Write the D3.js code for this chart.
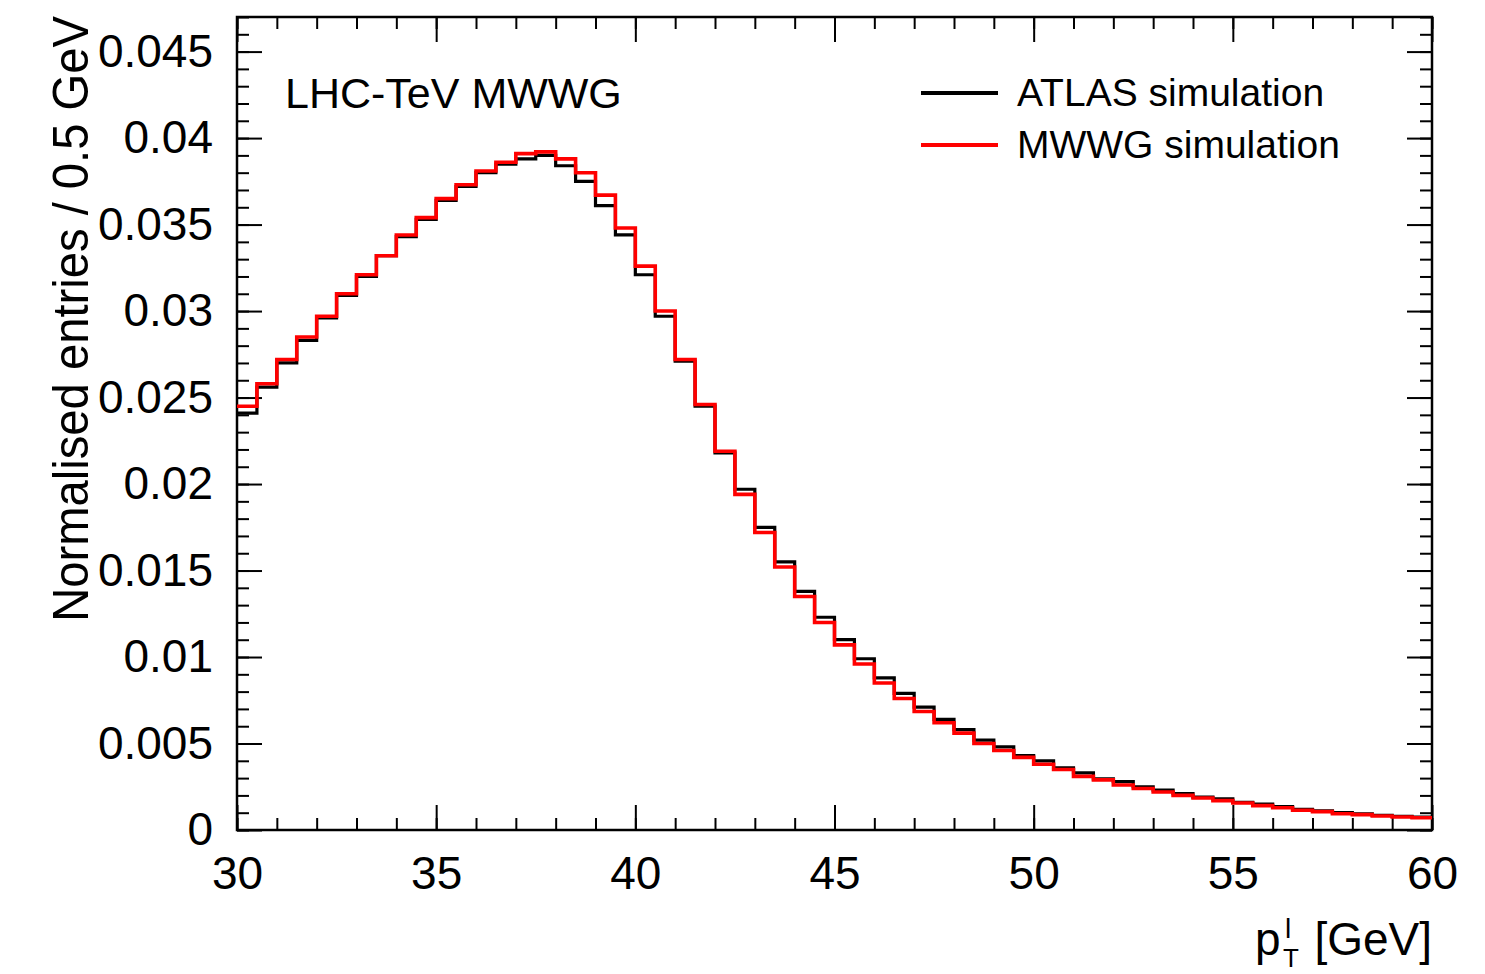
<!DOCTYPE html>
<html>
<head>
<meta charset="utf-8">
<script src="https://cdn.jsdelivr.net/npm/d3@7"></script>
<style>
  body { margin: 0; background: #fff; }
  svg { font-family: "Liberation Sans", Arial, Helvetica, sans-serif; }
</style>
</head>
<body>
<svg id="chart" width="1485" height="974"></svg>
<script>
// bin contents, 0.5 GeV bins from 30 to 60 GeV
const binLow = 30, binWidth = 0.5
const atlasValues = [0.0241, 0.0256, 0.0270, 0.0283, 0.0296, 0.0309, 0.0320, 0.0332, 0.0343, 0.0353,
  0.0364, 0.0372, 0.0380, 0.0385, 0.0388, 0.0390, 0.0384, 0.0375, 0.0361, 0.0344,
  0.0321, 0.0297, 0.0271, 0.0245, 0.0218, 0.0197, 0.0175, 0.0155, 0.0138, 0.0123,
  0.0110, 0.0099, 0.0088, 0.0079, 0.0071, 0.0064, 0.0058, 0.0052, 0.0048, 0.0043,
  0.0040, 0.0036, 0.0033, 0.00295, 0.0028, 0.0025, 0.0023, 0.0021, 0.0019, 0.0018,
  0.0016, 0.0015, 0.00135, 0.0012, 0.0011, 0.0010, 0.00093, 0.00085, 0.00079, 0.00075]
const mwwgValues = [0.0245, 0.0258, 0.0272, 0.0285, 0.0297, 0.0310, 0.0321, 0.0332, 0.0344, 0.0354,
  0.0365, 0.0373, 0.0381, 0.0386, 0.0391, 0.0392, 0.0388, 0.0380, 0.0367, 0.0348,
  0.0326, 0.0300, 0.0272, 0.0246, 0.0219, 0.0194, 0.0172, 0.0152, 0.0135, 0.0120,
  0.0107, 0.0096, 0.0085, 0.0076, 0.00685, 0.0062, 0.0056, 0.0050, 0.0046, 0.0042,
  0.0038, 0.0035, 0.0031, 0.0029, 0.0026, 0.0024, 0.0022, 0.0020, 0.00185, 0.0017,
  0.00156, 0.00141, 0.00129, 0.00114, 0.00106, 0.00094, 0.00089, 0.00081, 0.00075, 0.00071]

const seriesNames = ["ATLAS simulation", "MWWG simulation"]
const seriesColors = ["#000000", "#ff0000"]
const xTicks = [30, 35, 40, 45, 50, 55, 60]
const yTicks = [0, 0.005, 0.01, 0.015, 0.02, 0.025, 0.03, 0.035, 0.04, 0.045]
const titleText = "LHC-TeV MWWG"
const yTitle = "Normalised entries / 0.5 GeV"

const margin = {top: 17, right: 53, bottom: 144, left: 237}
const width = 1485 - margin.left - margin.right
const height = 974 - margin.top - margin.bottom

const svg = d3.select("#chart")
const g = svg.append("g").attr("transform", `translate(${margin.left},${margin.top})`)

const x = d3.scaleLinear().domain([30, 60]).range([0, width])
const y = d3.scaleLinear().domain([0, 0.047]).range([height, 0])

const xMinor = d3.range(30, 60.001, 1)
const yMinor = d3.range(0, 0.0470001, 0.001)

function styleAxis(sel){
  sel.select(".domain").remove()
  sel.selectAll("line").attr("stroke", "#000").attr("stroke-width", 2)
  sel.selectAll("text").attr("fill", "#000").style("font-size", "46px")
}

// bottom
g.append("g").attr("transform", `translate(0,${height})`)
  .call(d3.axisBottom(x).tickValues(xMinor).tickSize(-12).tickFormat(""))
  .call(styleAxis)
g.append("g").attr("transform", `translate(0,${height})`)
  .call(d3.axisBottom(x).tickValues(xTicks).tickSize(-25).tickPadding(26).tickFormat(d3.format("d")))
  .call(styleAxis)
// top
g.append("g")
  .call(d3.axisTop(x).tickValues(xMinor).tickSize(-12).tickFormat(""))
  .call(styleAxis)
g.append("g")
  .call(d3.axisTop(x).tickValues(xTicks).tickSize(-25).tickFormat(""))
  .call(styleAxis)
// left
g.append("g")
  .call(d3.axisLeft(y).tickValues(yMinor).tickSize(-12).tickFormat(""))
  .call(styleAxis)
g.append("g")
  .call(d3.axisLeft(y).tickValues(yTicks).tickSize(-25).tickPadding(24)
    .tickFormat(d => d === 0 ? "0" : String(+d.toFixed(3))))
  .call(styleAxis)
// right
g.append("g").attr("transform", `translate(${width},0)`)
  .call(d3.axisRight(y).tickValues(yMinor).tickSize(-12).tickFormat(""))
  .call(styleAxis)
g.append("g").attr("transform", `translate(${width},0)`)
  .call(d3.axisRight(y).tickValues(yTicks).tickSize(-25).tickFormat(""))
  .call(styleAxis)

// frame
g.append("rect").attr("width", width).attr("height", height)
  .attr("fill", "none").attr("stroke", "#000").attr("stroke-width", 2.5)

// histograms as steps
function stepPoints(vals){
  const pts = []
  vals.forEach((v, i) => {
    pts.push([binLow + i * binWidth, v])
    pts.push([binLow + (i + 1) * binWidth, v])
  })
  return pts
}
const line = d3.line().x(d => x(d[0])).y(d => y(d[1]))

g.append("path").datum(stepPoints(atlasValues))
  .attr("d", line).attr("fill", "none")
  .attr("stroke", seriesColors[0]).attr("stroke-width", 3.2)
g.append("path").datum(stepPoints(mwwgValues))
  .attr("d", line).attr("fill", "none")
  .attr("stroke", seriesColors[1]).attr("stroke-width", 3.6)

// title
svg.append("text").attr("x", 285).attr("y", 108)
  .style("font-size", "43px").text(titleText)

// legend
const legend = svg.selectAll(".legend").data(seriesNames).enter().append("g")
  .attr("class", "legend")
  .attr("transform", (d, i) => `translate(921,${93 + i * 52})`)
legend.append("line").attr("x1", 0).attr("x2", 77)
  .attr("stroke", (d, i) => seriesColors[i]).attr("stroke-width", 4)
legend.append("text").attr("x", 96).attr("y", 13)
  .style("font-size", "39px").text(d => d)

// y axis title, condensed to fit like the original
const yt = svg.append("text")
  .attr("text-anchor", "end")
  .style("font-size", "50px").text(yTitle)
const ytLen = yt.node().getComputedTextLength()
yt.attr("transform", `translate(88,16) rotate(-90) scale(${606 / ytLen},1)`)

// x axis title: p^l_T [GeV]
const xt = svg.append("g").style("font-size", "46px")
xt.append("text").attr("x", 1432).attr("y", 955).attr("text-anchor", "end").text("[GeV]")
xt.append("text").attr("x", 1255).attr("y", 955).text("p")
xt.append("text").attr("x", 1285).attr("y", 938).style("font-size", "28px").text("l")
xt.append("text").attr("x", 1283).attr("y", 967).style("font-size", "26px").text("T")
</script>
</body>
</html>
